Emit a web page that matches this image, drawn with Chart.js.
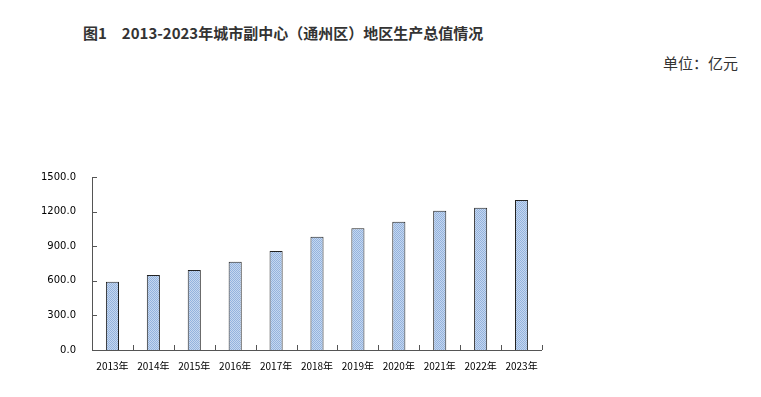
<!DOCTYPE html>
<html><head><meta charset="utf-8">
<script src="https://cdn.jsdelivr.net/npm/chart.js"></script>
<style>
html,body{margin:0;padding:0;background:#fff;}
#wrap{position:relative;width:761px;height:397px;overflow:hidden;}
#title{position:absolute;left:83px;top:22px;font:bold 15px "Noto Sans CJK SC","Noto Sans",sans-serif;color:#333;white-space:pre;}
#unit{position:absolute;left:663px;top:52px;font:15px "Noto Sans CJK SC","Noto Sans",sans-serif;color:#333;white-space:pre;}
canvas{position:absolute;left:0;top:0;}
</style></head>
<body><div id="wrap">
<div id="title">图1　2013-2023年城市副中心（通州区）地区生产总值情况</div>
<div id="unit">单位：亿元</div>
<canvas id="c" width="761" height="397"></canvas>
</div>
<script>
const categories = ['2013年','2014年','2015年','2016年','2017年','2018年','2019年','2020年','2021年','2022年','2023年'];
const gdpValues = [592, 650, 694, 766, 858, 982, 1055, 1113, 1208, 1234, 1301];
const yTicks = [0, 300, 600, 900, 1200, 1500];

function makePattern(){
  const p = document.createElement('canvas');
  p.width = 2; p.height = 2;
  const g = p.getContext('2d');
  g.fillStyle = '#c6d7ef'; g.fillRect(0,0,2,2);
  g.fillStyle = '#93b3de'; g.fillRect(0,0,1,1); g.fillRect(1,1,1,1);
  return document.getElementById('c').getContext('2d').createPattern(p,'repeat');
}

const tickPlugin = {
  id:'tickPlugin',
  afterDraw(chart){
    const ctx = chart.ctx, xs = chart.scales.x, ys = chart.scales.y;
    const a = chart.chartArea;
    ctx.save();
    ctx.strokeStyle = '#555'; ctx.lineWidth = 1;
    ctx.beginPath(); ctx.moveTo(a.left+0.5, a.top); ctx.lineTo(a.left+0.5, a.bottom); ctx.stroke();
    ctx.beginPath(); ctx.moveTo(a.left, a.bottom+0.5); ctx.lineTo(a.right, a.bottom+0.5); ctx.stroke();
    yTicks.forEach(v=>{
      const y = Math.round(ys.getPixelForValue(v))+0.5;
      ctx.beginPath(); ctx.moveTo(a.left, y); ctx.lineTo(a.left+5, y); ctx.stroke();
    });
    const n = categories.length;
    const half = (xs.getPixelForValue(1)-xs.getPixelForValue(0))/2;
    for(let i=1;i<=n;i++){
      const x = Math.round(xs.getPixelForValue(i-1)+half)+0.5;
      ctx.beginPath(); ctx.moveTo(x, a.bottom); ctx.lineTo(x, a.bottom-5); ctx.stroke();
    }
    ctx.restore();
  }
};

new Chart(document.getElementById('c'), {
  type:'bar',
  data:{ labels:categories, datasets:[{ data:gdpValues, backgroundColor:makePattern(), borderColor:'#222', borderWidth:1, borderSkipped:'bottom', categoryPercentage:1, barPercentage:0.32 }]},
  options:{
    responsive:false, animation:false,
    layout:{padding:{left:40, right:219, top:177, bottom:27}},
    plugins:{legend:{display:false}, title:{display:false}, tooltip:{enabled:false}},
    scales:{
      x:{
        grid:{display:false}, border:{display:false},
        ticks:{color:'#000', font:{size:10, family:'"Noto Sans CJK SC", sans-serif'}, padding:2, maxRotation:0, autoSkip:false},
        afterFit(s){ s.height = 20; }
      },
      y:{
        min:0, max:1500,
        afterBuildTicks(s){ s.ticks = yTicks.map(v=>({value:v})); },
        grid:{display:false}, border:{display:false},
        ticks:{color:'#000', font:{size:10, family:'"DejaVu Sans", sans-serif'}, padding:8, callback:v=>v.toFixed(1)},
        afterFit(s){ s.width = 52; }
      }
    }
  },
  plugins:[tickPlugin]
});
</script>
</body></html>
